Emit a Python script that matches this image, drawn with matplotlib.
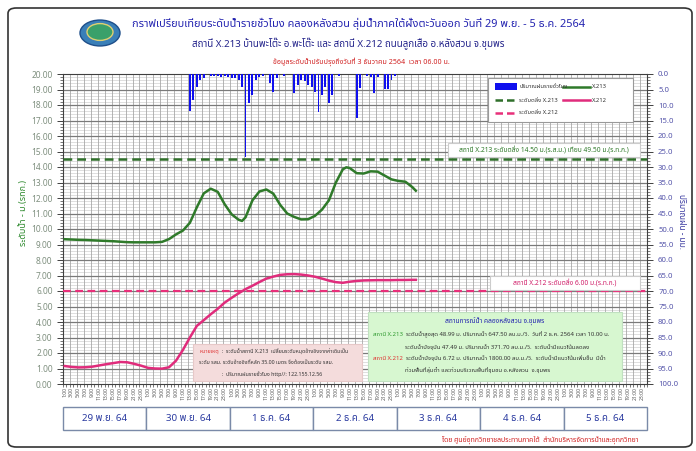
import matplotlib
matplotlib.use('Agg')
import matplotlib.pyplot as plt
from matplotlib import font_manager
from matplotlib.patches import Rectangle, FancyBboxPatch, Circle
from matplotlib.lines import Line2D
import numpy as np

names = {f.name for f in font_manager.fontManager.ttflist}
THAI = 'DejaVu Sans'
for cand in ['Noto Sans Thai', 'Noto Sans Thai UI', 'Sarabun', 'Tahoma', 'Loma', 'Garuda',
             'Kanit', 'Prompt', 'Bai Jamjuree']:
    if cand in names:
        THAI = cand
        break
plt.rcParams['font.family'] = [THAI, 'DejaVu Sans']

# ---------------- data ----------------
days = ['29 พ.ย. 64', '30 พ.ย. 64', '1 ธ.ค. 64', '2 ธ.ค. 64', '3 ธ.ค. 64', '4 ธ.ค. 64', '5 ธ.ค. 64']
hour_labels = ['%d:00' % h for h in range(1, 24, 2)]

x213_hours = [0, 2, 4, 6, 8, 10, 12, 14, 16, 18, 20, 22, 24, 26, 28, 30, 32, 34, 36, 38, 40, 42,
              44, 46, 48, 50, 51, 52, 54, 56, 58, 60, 62, 64, 66, 68, 70, 72, 74, 76, 78, 80,
              81, 82, 84, 86, 88, 90, 92, 94, 96, 98, 100, 101]
x213_level = [9.34, 9.32, 9.30, 9.29, 9.27, 9.25, 9.23, 9.21, 9.18, 9.15, 9.14, 9.14, 9.14, 9.14,
              9.17, 9.35, 9.65, 9.90, 10.40, 11.40, 12.30, 12.60, 12.40, 11.60, 10.95, 10.60,
              10.52, 10.75, 11.85, 12.42, 12.55, 12.28, 11.55, 11.00, 10.78, 10.62, 10.63, 10.85,
              11.25, 11.85, 13.00, 13.85, 13.98, 13.93, 13.60, 13.58, 13.72, 13.70, 13.45, 13.20,
              13.10, 13.05, 12.70, 12.47]

x212_hours = [0, 2, 4, 6, 8, 10, 12, 14, 16, 18, 20, 22, 24, 26, 28, 30, 32, 34, 36, 38, 40, 42,
              44, 46, 48, 50, 52, 54, 56, 58, 60, 62, 64, 66, 68, 70, 72, 74, 76, 78, 80, 82, 84,
              86, 88, 90, 92, 94, 96, 98, 100, 101]
x212_level = [1.16, 1.10, 1.07, 1.08, 1.12, 1.20, 1.28, 1.35, 1.42, 1.40, 1.30, 1.18, 1.04, 1.00,
              0.99, 1.08, 1.50, 2.20, 3.00, 3.75, 4.12, 4.50, 4.85, 5.25, 5.56, 5.85, 6.12, 6.34,
              6.58, 6.80, 6.93, 7.04, 7.08, 7.09, 7.06, 7.00, 6.92, 6.80, 6.67, 6.57, 6.53, 6.60,
              6.65, 6.68, 6.69, 6.70, 6.70, 6.70, 6.71, 6.71, 6.72, 6.72]

rain_hours = [36, 37, 38, 39, 40, 42, 43, 44, 45, 46, 47, 48, 49, 50, 51, 52, 53, 54, 55, 56, 57,
              59, 60, 61, 63, 66, 67, 68, 69, 70, 71, 72, 73, 74, 75, 76, 77, 79, 84, 85, 87, 88,
              89, 90, 92, 93, 94, 95]
rain_mm = [11.8, 8.4, 4.1, 1.9, 1.2, 0.8, 0.8, 0.8, 0.9, 0.8, 1.1, 1.4, 1.4, 1.9, 4.1, 26.7, 9.5,
           6.8, 1.9, 0.9, 0.7, 3.0, 5.7, 1.4, 0.6, 6.2, 3.5, 1.9, 2.4, 3.5, 4.1, 5.7, 12.2, 6.8,
           4.1, 9.5, 6.8, 0.6, 14.3, 4.6, 0.6, 0.9, 6.2, 0.9, 4.9, 4.9, 1.9, 0.6]

bank_x213 = 14.50
bank_x212 = 6.00

# ---------------- figure ----------------
W, H = 696, 451
fig = plt.figure(figsize=(W / 100, H / 100), dpi=100)


def fx(x):
    return x / W


def fy(y):
    return 1 - y / H


# outer rounded frame
fig.patches.append(FancyBboxPatch((fx(8), fy(447)), fx(684), 439 / H,
                                  boxstyle='round,pad=0,rounding_size=0.012',
                                  transform=fig.transFigure, fill=False,
                                  edgecolor='#333333', linewidth=1.2))

L, R, T, B = 63, 647, 74, 384
ax = fig.add_axes([fx(L), fy(B), (R - L) / W, (B - T) / H])
ax.set_xlim(0, 168)
ax.set_ylim(0, 20)

# grids
for yy in np.arange(0.2, 20, 0.2):
    if abs(yy - round(yy)) > 1e-6:
        ax.axhline(yy, color='#d2d2d2', lw=0.5, zorder=0)
for yy in range(1, 20):
    ax.axhline(yy, color='#7a7a7a', lw=0.9, zorder=0.5)
for xx in range(2, 168, 2):
    ax.axvline(xx, color='#a8a8a8', lw=0.6, zorder=0.4)

ax.set_yticks(np.arange(0, 20.01, 1))
ax.set_yticklabels(['%.2f' % v for v in np.arange(0, 20.01, 1)])
ax.set_yticks(np.arange(0, 20.01, 0.2), minor=True)
ax.tick_params(axis='y', which='major', direction='out', length=4, width=0.7,
               labelsize=6, labelcolor='#7f8f7f', color='#404040')
ax.tick_params(axis='y', which='minor', direction='out', length=2, width=0.5, color='#404040')

xt = [2 * i + 0.5 for i in range(84)]
ax.set_xticks(xt)
ax.set_xticklabels([hour_labels[i % 12] for i in range(84)], rotation=90)
ax.set_xticks(np.arange(0, 169, 1), minor=True)
ax.tick_params(axis='x', which='major', length=0, labelsize=3.6, labelcolor='#555555', pad=2)
ax.tick_params(axis='x', which='minor', direction='out', length=2.5, width=0.5, color='#404040')
for s in ax.spines.values():
    s.set_color('#404040')
    s.set_linewidth(0.8)

# bank lines
ax.axhline(bank_x213, color='#2f6f2a', lw=1.8, ls=(0, (3.5, 2)), zorder=3)
ax.axhline(bank_x212, color='#e8307a', lw=1.6, ls=(0, (3.5, 2)), zorder=3)

# series
ax.plot(np.array(x213_hours) + 0.5, x213_level, color='#2f7a2a', lw=1.8, zorder=4,
        solid_joinstyle='round')
ax.plot(np.array(x212_hours) + 0.5, x212_level, color='#e02c7c', lw=1.8, zorder=4,
        solid_joinstyle='round')

ax.set_ylabel('ระดับน้ำ - ม.(รทก.)', color='#2f8a2f', fontsize=6.5)
ax.yaxis.set_label_coords((28 - L) / (R - L), (B - 213) / (B - T))

# rain axis
ax2 = ax.twinx()
ax2.set_ylim(100, 0)
ax2.set_xlim(0, 168)
ax2.bar(np.array(rain_hours) + 0.5, rain_mm, width=0.55, color='#1010ee', zorder=2)
ax2.set_yticks(np.arange(0, 100.1, 5))
ax2.set_yticklabels(['%.1f' % v for v in np.arange(0, 100.1, 5)])
ax2.set_yticks(np.arange(0, 100.1, 1), minor=True)
ax2.tick_params(axis='y', which='major', direction='out', length=4, width=0.7, pad=4,
                labelsize=5.6, labelcolor='#5555aa', color='#404040')
ax2.tick_params(axis='y', which='minor', direction='out', length=2, width=0.5, color='#404040')
ax2.set_ylabel('ปริมาณฝน - มม.', color='#3a3aa0', fontsize=6, rotation=270)
ax2.yaxis.label.set_verticalalignment('bottom')
ax2.yaxis.set_label_coords((677 - L) / (R - L), (B - 222) / (B - T))
for s in ax2.spines.values():
    s.set_visible(False)

# ---------------- texts ----------------
fig.text(fx(359), fy(24), 'กราฟเปรียบเทียบระดับน้ำรายชั่วโมง คลองหลังสวน ลุ่มน้ำภาคใต้ฝั่งตะวันออก วันที่ 29 พ.ย. - 5 ธ.ค. 2564',
         ha='center', va='center', fontsize=7.9, color='#2323b0', fontweight='bold')
fig.text(fx(348), fy(44), 'สถานี X.213 บ้านพะโต๊ะ อ.พะโต๊ะ และ สถานี X.212 ถนนลูกเสือ อ.หลังสวน จ.ชุมพร',
         ha='center', va='center', fontsize=7, color='#22228a')
fig.text(fx(361), fy(62), 'ข้อมูลระดับน้ำปรับปรุงถึงวันที่ 3 ธันวาคม 2564  เวลา 06.00 น.',
         ha='center', va='center', fontsize=5.1, color='#d02020')

# logo
fig.patches.append(Circle((fx(100), fy(33)), 20 / W, transform=fig.transFigure,
                          facecolor='#3a7fb8', edgecolor='#1f4f8a', lw=1))
fig.patches.append(Circle((fx(100), fy(32)), 13 / W, transform=fig.transFigure,
                          facecolor='#3aa06a', edgecolor='#e0d070', lw=1))

renderer = fig.canvas.get_renderer()
TZ = 9


def segs(x, y, parts, fs, ha='left'):
    widths = []
    arts = []
    for t, c in parts:
        a = fig.text(0, 0, t, fontsize=fs, color=c, va='center', zorder=TZ)
        widths.append(a.get_window_extent(renderer).width)
        arts.append(a)
    total = sum(widths)
    x0 = x if ha == 'left' else x - total / 2
    for a, w in zip(arts, widths):
        a.set_position((fx(x0), fy(y)))
        x0 += w


def box(x0, y0, x1, y1, fc, ec='#bbbbbb'):
    fig.patches.append(Rectangle((fx(x0), fy(y1)), (x1 - x0) / W, (y1 - y0) / H,
                                 transform=fig.transFigure, facecolor=fc, edgecolor=ec, lw=0.8,
                                 zorder=5))


# legend
box(488, 78, 633, 122, 'white', '#999999')
fig.patches.append(Rectangle((fx(495), fy(90)), 22 / W, 7 / H, transform=fig.transFigure,
                             facecolor='#1010ee', edgecolor='none', zorder=6))
fig.lines.append(Line2D([fx(563), fx(590)], [fy(86.5)] * 2, color='#2f7a2a', lw=1.8,
                        transform=fig.transFigure, zorder=6))
fig.lines.append(Line2D([fx(495), fx(517)], [fy(100)] * 2, color='#2f6f2a', lw=1.8,
                        ls=(0, (3, 1.6)), transform=fig.transFigure, zorder=6))
fig.lines.append(Line2D([fx(563), fx(590)], [fy(100)] * 2, color='#e02c7c', lw=1.8,
                        transform=fig.transFigure, zorder=6))
fig.lines.append(Line2D([fx(495), fx(517)], [fy(113)] * 2, color='#e8307a', lw=1.8,
                        ls=(0, (3, 1.6)), transform=fig.transFigure, zorder=6))
lfs = 4.2
fig.text(fx(519), fy(86.5), 'ปริมาณฝนรายชั่วโมง', fontsize=lfs, va='center', color='#333333', zorder=TZ)
fig.text(fx(592), fy(86.5), 'X.213', fontsize=lfs, va='center', color='#333333', zorder=TZ)
fig.text(fx(519), fy(100), 'ระดับตลิ่ง X.213', fontsize=lfs, va='center', color='#333333', zorder=TZ)
fig.text(fx(592), fy(100), 'X.212', fontsize=lfs, va='center', color='#333333', zorder=TZ)
fig.text(fx(519), fy(113), 'ระดับตลิ่ง X.212', fontsize=lfs, va='center', color='#333333', zorder=TZ)

# bank labels
box(448, 143, 640, 157, 'white', '#cccccc')
fig.text(fx(544), fy(150), 'สถานี X.213 ระดับตลิ่ง 14.50 ม.(ร.ส.ม.) เทียบ 49.50 ม.(ร.ท.ก.)',
         fontsize=4.8, color='#2f7a2a', ha='center', va='center', zorder=TZ)
box(490, 276, 640, 290, 'white', '#cccccc')
fig.text(fx(565), fy(283), 'สถานี X.212 ระดับตลิ่ง 6.00 ม.(ร.ท.ก.)',
         fontsize=4.8, color='#d0206a', ha='center', va='center', zorder=TZ)

# note box (pink)
box(193, 344, 362, 381, '#f4dcdc', '#e6c8c8')
nfs = 3.8
segs(199, 352, [('หมายเหตุ', '#e03030'), ('  :  ระดับน้ำสถานี X.213  เปลี่ยนระดับหมุดอ้างอิงจากค่าเดิมเป็น', '#333333')], nfs)
segs(199, 363, [('ระดับ รสม. ระดับอ้างอิงที่หลัก 35.00 เมตร จึงต้องเป็นระดับ รสม.', '#333333')], nfs)
segs(222, 374, [(':  ปริมาณฝนรายชั่วโมง http//: 122.155.12.56', '#333333')], nfs)

# situation box (green)
box(368, 312, 622, 381, '#d7f7d0', '#c0e0c0')
gfs = 4.3
segs(495, 322, [('สถานการณ์น้ำ คลองหลังสวน จ.ชุมพร', '#2323b0')], 4.8, ha='center')
segs(373, 335, [('สถานี X.213', '#2f9a2f'), ('  ระดับน้ำสูงสุด 48.99 ม. ปริมาณน้ำ 647.50 ลบ.ม./วิ.  วันที่ 2 ธ.ค. 2564 เวลา 10.00 น.', '#333333')], gfs)
segs(405, 347, [('ระดับน้ำปัจจุบัน 47.49 ม. ปริมาณน้ำ 371.70 ลบ.ม./วิ.  ระดับน้ำมีแนวโน้มลดลง', '#333333')], gfs)
segs(373, 359, [('สถานี X.212', '#e03030'), ('  ระดับน้ำปัจจุบัน 6.72 ม. ปริมาณน้ำ 1800.00 ลบ.ม./วิ.  ระดับน้ำมีแนวโน้มเพิ่มขึ้น  มีน้ำ', '#333333')], gfs)
segs(405, 371, [('ท่วมพื้นที่ลุ่มต่ำ และท่วมบริเวณพื้นที่ชุมชน อ.หลังสวน  จ.ชุมพร', '#333333')], gfs)

# day boxes
dw = (R - L) / 7
for i, d in enumerate(days):
    x0 = L + i * dw
    fig.patches.append(Rectangle((fx(x0), fy(430)), dw / W, 23 / H, transform=fig.transFigure,
                                 facecolor='white', edgecolor='#7a8aa8', lw=1.0))
    fig.text(fx(x0 + dw / 2), fy(418.5), d, ha='center', va='center', fontsize=7,
             color='#2a3aa0')

fig.text(fx(638), fy(440), 'โดย ศูนย์อุทกวิทยาชลประทานภาคใต้  สำนักบริหารจัดการน้ำและอุทกวิทยา',
         ha='right', va='center', fontsize=5, color='#d02020')

fig.savefig('out.png', dpi=100)
